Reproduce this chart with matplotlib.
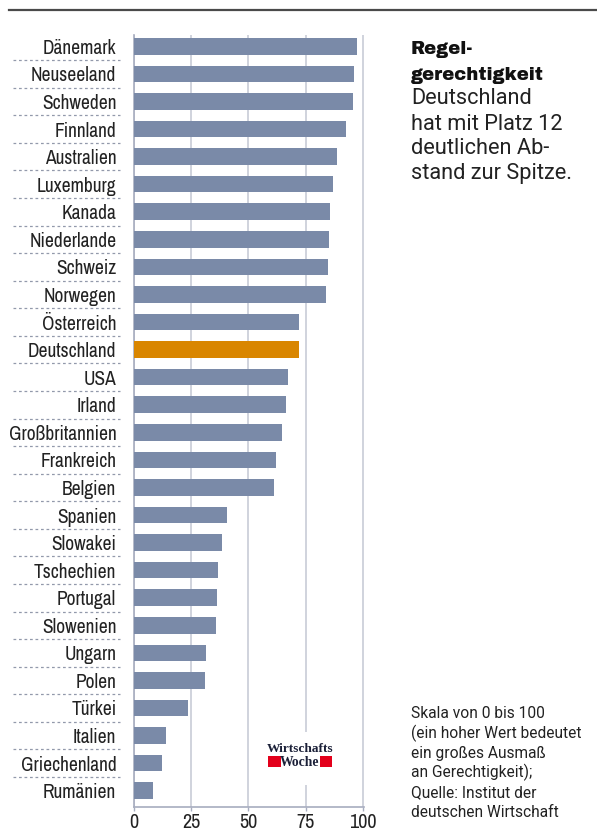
import matplotlib
matplotlib.use("Agg")
import matplotlib.pyplot as plt
import matplotlib.transforms as mtransforms
from matplotlib.patches import Rectangle

countries = ["Dänemark", "Neuseeland", "Schweden", "Finnland", "Australien", "Luxemburg",
             "Kanada", "Niederlande", "Schweiz", "Norwegen", "Österreich", "Deutschland",
             "USA", "Irland", "Großbritannien", "Frankreich", "Belgien", "Spanien",
             "Slowakei", "Tschechien", "Portugal", "Slowenien", "Ungarn", "Polen",
             "Türkei", "Italien", "Griechenland", "Rumänien"]
values = [97.4, 96.1, 95.6, 92.6, 88.6, 86.9, 85.6, 85.2, 84.7, 83.8, 72.1, 72.0,
          67.2, 66.4, 64.6, 62.0, 61.1, 40.6, 38.4, 36.7, 36.2, 35.8, 31.4, 31.0,
          23.6, 14.0, 12.2, 8.3]
highlight = "Deutschland"
xticks = [0, 25, 50, 75, 100]

W, H = 597, 832
BAR = "#7a8aa8"
HIGH = "#d98600"
GRID = "#c4c8d3"
AXC = "#a7adbf"
TXT = "#222222"
LABEL_FONT = ["Archivo Narrow", "Roboto Condensed", "DejaVu Sans"]
TEXT_FONT = ["Roboto", "DejaVu Sans"]
TITLE_FONT = ["Archivo Black", "Roboto", "DejaVu Sans"]

fig = plt.figure(figsize=(W / 100, H / 100), dpi=100)
fig.patch.set_facecolor("white")

def fx(px):
    return px / W

def fy(py):
    return 1 - py / H

ax = fig.add_axes([fx(133.7), fy(806.7), fx(363.6) - fx(133.7), fy(35) - fy(806.7)])
n = len(countries)
ypos = list(range(n))
colors = [HIGH if c == highlight else BAR for c in countries]
ax.barh(ypos, values, height=0.6, color=colors, zorder=3)
ax.set_ylim(n - 1 + 0.58, -0.41)
ax.set_xlim(0, 100.3)

ax.set_xticks(xticks)
ax.set_xticklabels([str(t) for t in xticks], fontsize=14.5, family=LABEL_FONT, color=TXT)
ax.tick_params(axis="x", length=3, width=1, color=AXC, pad=1.5)
ax.set_yticks(ypos)
ax.set_yticklabels(countries, fontsize=14, family=LABEL_FONT, color=TXT)
ax.tick_params(axis="y", length=0, pad=12.5)

ax.grid(axis="x", color=GRID, lw=1.1, zorder=0)
ax.grid(axis="y", visible=False)
for s in ["top", "right"]:
    ax.spines[s].set_visible(False)
for s in ["left", "bottom"]:
    ax.spines[s].set_color(AXC)
    ax.spines[s].set_linewidth(1.2)

# dashed separators between labels
trans = mtransforms.blended_transform_factory(fig.transFigure, ax.transData)
for i in range(n - 1):
    ax.plot([fx(13), fx(120)], [i + 0.5, i + 0.5], transform=trans, clip_on=False,
            color="#9299ab", lw=0.9, ls=(0, (2.2, 2.2)))

# top rule
fig.add_artist(plt.Line2D([fx(9), 1], [fy(10), fy(10)], color="#4a4a4a", lw=1.6))

# logo
fig.add_artist(Rectangle((fx(262), fy(785)), fx(340) - fx(262), fy(732) - fy(785),
                         transform=fig.transFigure, facecolor="white", edgecolor="none", zorder=5))
fig.text(fx(300.5), fy(752.5), "Wirtschafts", ha="center", va="baseline", fontsize=9.6,
         family=["Liberation Serif", "DejaVu Serif"], weight="bold", color="#1b2038", zorder=6)
fig.text(fx(300), fy(765.5), "Woche", ha="center", va="baseline", fontsize=9.8,
         family=["Liberation Serif", "DejaVu Serif"], weight="bold", color="#1b2038", zorder=6)
for x0, x1 in [(268.3, 280.5), (319.8, 331.8)]:
    fig.add_artist(Rectangle((fx(x0), fy(766.7)), fx(x1) - fx(x0), fy(755.7) - fy(766.7),
                             transform=fig.transFigure, facecolor="#e3001b", edgecolor="none", zorder=6))

# headline text
title_lines = ["Regel-", "gerechtigkeit"]
body_lines = ["Deutschland", "hat mit Platz 12", "deutlichen Ab-", "stand zur Spitze."]
base = 54.5
step = 25
for i, t in enumerate(title_lines):
    fig.text(fx(411), fy(base + i * step), t, ha="left", va="baseline", fontsize=13,
             family=TITLE_FONT, color="#111111")
for i, t in enumerate(body_lines):
    fig.text(fx(411), fy(base + (i + 2) * step), t, ha="left", va="baseline", fontsize=15.7,
             family=TEXT_FONT, color=TXT)

note_lines = ["Skala von 0 bis 100", "(ein hoher Wert bedeutet", "ein großes Ausmaß",
              "an Gerechtigkeit);", "Quelle: Institut der", "deutschen Wirtschaft"]
nb = 718.5
for i, t in enumerate(note_lines):
    fig.text(fx(411), fy(nb + i * 19.7), t, ha="left", va="baseline", fontsize=11.2,
             family=TEXT_FONT, color=TXT)

fig.savefig("out.png", dpi=100, facecolor="white")
